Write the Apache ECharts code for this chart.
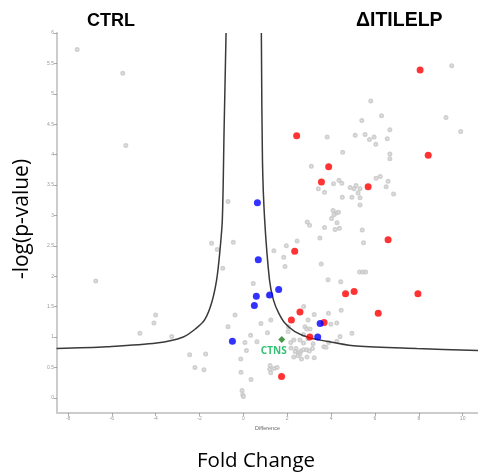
<!DOCTYPE html>
<html><head><meta charset="utf-8">
<script src="https://cdn.jsdelivr.net/npm/echarts@6/dist/echarts.min.js"></script>
<style>html,body{margin:0;padding:0;background:#fff}#c{width:478px;height:475px}</style>
</head><body><div id="c"></div>
<script>
const xTicks = [-8,-6,-4,-2,0,2,4,6,8,10];
const yTicks = [0,0.5,1,1.5,2,2.5,3,3.5,4,4.5,5,5.5,6];

const grayPoints = [
[-7.58,5.73],[-5.50,5.34],[-5.36,4.15],[-0.70,3.23],[-1.45,2.54],[-1.19,2.44],[-0.46,2.56],[-0.94,2.13],
[-6.73,1.92],[-4.00,1.36],[-4.08,1.23],[-4.72,1.06],[-3.27,1.01],[-0.38,1.36],[-0.70,1.17],[-2.45,0.71],
[-1.72,0.72],[-2.21,0.50],[-1.80,0.46],[3.10,3.81],[3.42,3.44],[3.70,3.38],[4.11,3.52],[4.36,3.58],
[4.49,3.53],[4.87,3.46],[5.05,3.44],[5.14,3.49],[5.32,3.44],[5.23,3.37],[4.51,3.30],[4.95,3.30],
[5.32,3.29],[5.32,3.17],[4.09,3.08],[4.24,3.04],[4.34,3.05],[4.13,3.01],[4.02,2.95],[4.27,2.88],
[2.91,2.89],[3.02,2.84],[3.70,2.80],[4.18,2.77],[4.38,2.79],[5.42,2.76],[3.49,2.63],[5.48,2.55],
[2.45,2.58],[1.96,2.50],[1.39,2.42],[1.84,2.31],[1.90,2.16],[3.55,2.20],[3.86,1.94],[4.44,1.91],
[5.30,2.07],[5.45,2.07],[5.58,2.07],[0.45,1.88],[1.12,1.68],[9.50,5.46],[5.81,4.88],[6.30,4.64],
[5.40,4.56],[9.24,4.61],[9.91,4.38],[6.68,4.41],[3.82,4.29],[5.10,4.32],[5.55,4.33],[5.75,4.25],
[5.96,4.29],[6.04,4.17],[6.56,4.26],[6.68,4.01],[6.68,3.93],[4.53,4.04],[6.05,3.61],[6.24,3.64],
[6.60,3.56],[6.51,3.47],[6.85,3.35],[2.75,1.50],[3.23,1.37],[3.88,1.39],[4.46,1.44],[0.80,1.22],
[1.25,1.28],[2.05,1.17],[2.95,1.28],[3.99,1.21],[4.26,1.23],[2.81,1.17],[2.89,1.13],[3.04,1.13],
[2.04,1.09],[1.10,1.07],[0.33,1.03],[2.74,1.04],[2.30,0.95],[2.58,0.95],[2.94,0.97],[2.16,0.91],
[2.74,0.90],[0.07,0.91],[0.62,0.92],[0.14,0.78],[-0.12,0.64],[4.41,1.01],[4.26,0.93],[4.95,1.06],
[3.67,0.84],[3.89,0.91],[3.77,0.83],[2.17,0.82],[2.40,0.81],[2.36,0.76],[2.62,0.77],[2.51,0.74],
[2.58,0.72],[2.74,0.79],[2.89,0.79],[3.01,0.77],[3.15,0.81],[3.23,0.66],[2.30,0.67],[2.49,0.69],
[2.65,0.64],[2.90,0.67],[3.18,0.89],[1.22,0.53],[1.20,0.47],[1.40,0.48],[1.54,0.50],[1.25,0.41],
[0.35,0.30],[-0.11,0.42],[-0.06,0.12],[-0.03,0.05],[0.00,0.02]
];

const redPoints = [
[8.06,5.39],[8.43,3.99],[2.43,4.31],[3.89,3.80],[3.56,3.55],[5.69,3.47],[6.60,2.60],[2.34,2.41],
[4.66,1.71],[5.05,1.75],[7.96,1.71],[6.15,1.39],[2.58,1.41],[2.19,1.28],[3.68,1.24],[3.03,1.00],[1.74,0.35]
];

const bluePoints = [
[0.64,3.21],[0.68,2.27],[1.61,1.78],[1.20,1.69],[0.59,1.67],[0.50,1.52],[-0.50,0.93],[3.50,1.22],[3.39,1.00]
];

const greenPoints = [[1.75,0.96,'CTNS']];

const leftCurve = [
[-8.52,0.81],[-6.24,0.84],[-3.96,0.90],[-2.74,1.00],[-2.13,1.15],[-1.77,1.28],[-1.45,1.56],
[-1.22,1.94],[-1.08,2.38],[-0.96,2.93],[-0.88,4.40],[-0.79,6.0]
];
const rightCurve = [
[0.82,6.0],[0.87,3.91],[0.97,2.93],[1.19,1.94],[1.37,1.61],[1.60,1.40],[1.89,1.23],[2.35,1.09],
[3.01,0.99],[4.11,0.91],[5.17,0.85],[7.91,0.81],[10.7,0.78]
];

const chart = echarts.init(document.getElementById('c'));
const tinyLabel = {fontSize:5, color:'#999', fontFamily:'Liberation Sans'};
chart.setOption({
  animation:false,
  grid:{left:57, right:0, top:33, bottom:62},
  xAxis:{type:'value', min:-8.5, max:10.7,
    name:'Difference', nameLocation:'middle', nameGap:12,
    nameTextStyle:{fontSize:5.5, color:'#666', fontFamily:'Liberation Sans'},
    axisLine:{show:true, onZero:false, lineStyle:{color:'#cccccc', width:2}},
    axisTick:{show:true, length:3, lineStyle:{color:'#888', width:0.7}, customValues:xTicks},
    axisLabel:Object.assign({margin:3, customValues:xTicks}, tinyLabel),
    splitLine:{show:false}},
  yAxis:{type:'value', min:-0.25, max:6,
    axisLine:{show:true, onZero:false, lineStyle:{color:'#cccccc', width:2}},
    axisTick:{show:true, length:3, lineStyle:{color:'#888', width:0.7}, customValues:yTicks},
    axisLabel:Object.assign({margin:3, customValues:yTicks}, tinyLabel),
    splitLine:{show:false}},
  graphic:[
    {type:'text', left:87, top:12, style:{text:'CTRL', font:'bold 18px "Liberation Sans"', fill:'#000'}},
    {type:'text', left:356, top:11, style:{text:'\u0394ITILELP', font:'bold 19.5px "Liberation Sans"', fill:'#000'}},
    {type:'text', x:22, y:219, rotation:Math.PI/2, style:{text:'-log(p-value)', font:'21px "Open Sans"', fill:'#000', align:'center', verticalAlign:'middle'}},
    {type:'text', x:256, y:461, style:{text:'Fold Change', font:'20.5px "Open Sans"', fill:'#000', align:'center', verticalAlign:'middle'}}
  ],
  series:[
    {type:'scatter', data:grayPoints, symbol:'emptyCircle', symbolSize:3,
     itemStyle:{color:'#c4c4c4', borderWidth:0.7}, z:1, silent:true},
    {type:'line', data:leftCurve, smooth:0.3, symbol:'none', lineStyle:{color:'#3a3a3a', width:1.5}, z:2},
    {type:'line', data:rightCurve, smooth:0.3, symbol:'none', lineStyle:{color:'#3a3a3a', width:1.5}, z:2},
    {type:'scatter', data:redPoints, symbolSize:7, itemStyle:{color:'#ff0000'}, z:3},
    {type:'scatter', data:bluePoints, symbolSize:7, itemStyle:{color:'#0000ff'}, z:3},
    {type:'scatter', data:greenPoints, symbol:'diamond', symbolSize:7, itemStyle:{color:'#1f7a1f'}, z:4,
     label:{show:true, position:'bottom', distance:3, offset:[-8,0], formatter:p=>p.data[2],
       color:'#00b050', fontSize:10, fontWeight:'bold', fontFamily:'Open Sans'}}
  ]
});
</script></body></html>
